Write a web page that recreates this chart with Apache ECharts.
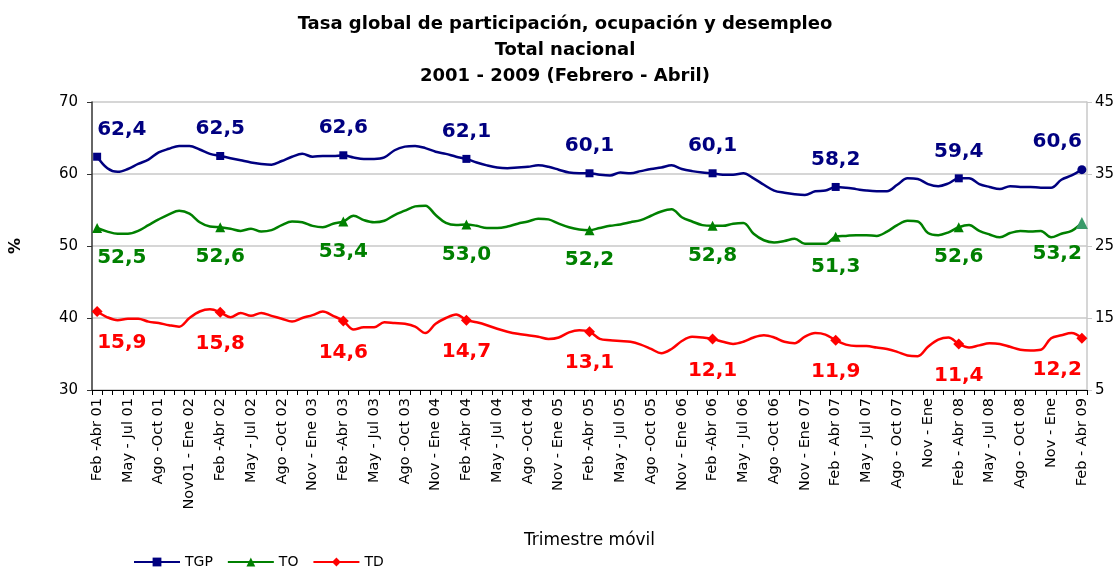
<!DOCTYPE html>
<html><head><meta charset="utf-8">
<script src="https://cdn.jsdelivr.net/npm/echarts@6/dist/echarts.min.js"></script>
<style>html,body{margin:0;padding:0;background:#fff}#c{width:1120px;height:567px}</style>
</head><body><div id="c"></div>
<script>
const tickLabels = [
  'Feb -Abr 01','May - Jul 01','Ago -Oct 01','Nov01 - Ene 02',
  'Feb -Abr 02','May - Jul 02','Ago -Oct 02','Nov - Ene 03',
  'Feb -Abr 03','May - Jul 03','Ago -Oct 03','Nov - Ene 04',
  'Feb -Abr 04','May - Jul 04','Ago -Oct 04','Nov - Ene 05',
  'Feb -Abr 05','May - Jul 05','Ago -Oct 05','Nov - Ene 06',
  'Feb -Abr 06','May - Jul 06','Ago -Oct 06','Nov - Ene 07',
  'Feb - Abr 07','May - Jul 07','Ago - Oct 07','Nov - Ene',
  'Feb - Abr 08','May - Jul 08','Ago - Oct 08','Nov - Ene',
  'Feb - Abr 09'
];
const tgp = [
  62.4, 60.8, 60.3, 60.7, 61.4, 62.0, 63.0, 63.5, 63.9, 63.9, 63.4, 62.8,
  62.5, 62.2, 61.9, 61.6, 61.4, 61.3, 61.8, 62.4, 62.8, 62.4, 62.5, 62.5,
  62.6, 62.3, 62.1, 62.1, 62.3, 63.3, 63.8, 63.9, 63.6, 63.1, 62.8, 62.4,
  62.1, 61.6, 61.2, 60.9, 60.8, 60.9, 61.0, 61.2, 61.0, 60.6, 60.2, 60.1,
  60.1, 59.9, 59.8, 60.2, 60.1, 60.4, 60.7, 60.9, 61.2, 60.7, 60.4, 60.2,
  60.1, 59.9, 59.9, 60.1, 59.4, 58.5, 57.7, 57.4, 57.2, 57.1, 57.6, 57.7,
  58.2, 58.1, 57.9, 57.7, 57.6, 57.6, 58.5, 59.4, 59.3, 58.6, 58.3, 58.7,
  59.4, 59.4, 58.6, 58.2, 57.9, 58.3, 58.2, 58.2, 58.1, 58.1, 59.2, 59.8,
  60.6
];
const to = [
  52.5, 52.0, 51.7, 51.7, 52.1, 52.9, 53.7, 54.4, 54.9, 54.5, 53.3, 52.7,
  52.6, 52.4, 52.1, 52.4, 52.0, 52.2, 52.9, 53.4, 53.3, 52.8, 52.6, 53.1,
  53.4, 54.2, 53.6, 53.3, 53.5, 54.3, 54.9, 55.5, 55.6, 54.3, 53.2, 52.9,
  53.0, 52.8, 52.5, 52.5, 52.7, 53.1, 53.4, 53.8, 53.7, 53.1, 52.6, 52.3,
  52.2, 52.5, 52.8, 53.0, 53.3, 53.6, 54.2, 54.8, 55.1, 54.0, 53.4, 52.9,
  52.8, 52.8, 53.1, 53.2, 51.7, 50.8, 50.5, 50.7, 51.0, 50.3, 50.3, 50.3,
  51.3, 51.4, 51.5, 51.5, 51.4, 52.0, 52.9, 53.5, 53.4, 51.8, 51.5, 51.9,
  52.6, 52.9, 52.1, 51.6, 51.2, 51.8, 52.1, 52.0, 52.1, 51.2, 51.7, 52.1,
  53.2
];
const td = [
  15.9, 15.1, 14.7, 14.9, 14.9, 14.5, 14.3, 14.0, 13.8, 15.0, 15.9, 16.2,
  15.8, 15.1, 15.7, 15.3, 15.7, 15.3, 14.9, 14.5, 15.0, 15.4, 15.9, 15.3,
  14.6, 13.4, 13.7, 13.7, 14.4, 14.3, 14.2, 13.8, 12.9, 14.2, 15.0, 15.5,
  14.7, 14.4, 14.0, 13.5, 13.1, 12.8, 12.6, 12.4, 12.1, 12.3, 13.0, 13.3,
  13.1, 12.1, 11.9, 11.8, 11.7, 11.3, 10.7, 10.1, 10.7, 11.8, 12.4, 12.3,
  12.1, 11.7, 11.4, 11.7, 12.3, 12.6, 12.3, 11.7, 11.5, 12.4, 12.9, 12.7,
  11.9, 11.3, 11.1, 11.1, 10.9, 10.7, 10.3, 9.8, 9.7, 11.0, 12.0, 12.3,
  11.4, 10.9, 11.2, 11.5, 11.4, 11.0, 10.6, 10.5, 10.6, 12.2, 12.6, 12.9,
  12.2
];

const n = tgp.length;
const categories = [];
for (let i = 0; i < n; i++) categories.push(i % 3 === 0 ? tickLabels[i / 3] : '');

const FONT = '"DejaVu Sans", "Liberation Sans", Arial, sans-serif';
const fmt = v => (typeof v === 'object' ? v.value : v).toFixed(1).replace('.', ',');

function buildData(arr, pos, dist, lastExtra) {
  return arr.map((v, i) => {
    if (i % 12 !== 0) return { value: v, symbol: 'none' };
    const lab = { show: true, position: pos, distance: dist };
    if (i === 0) lab.align = 'left';
    const item = { value: v, label: lab };
    if (i === n - 1) { lab.align = 'right'; Object.assign(item, lastExtra || {}); }
    return item;
  });
}

function mkSeries(name, arr, color, symbol, size, yIdx, pos, dist, lastExtra) {
  return {
    name, type: 'line', yAxisIndex: yIdx, smooth: 0.35,
    symbol, symbolSize: size, showAllSymbol: true,
    lineStyle: { color, width: 2.5 }, itemStyle: { color },
    label: {
      show: false, color, fontSize: 20, fontWeight: 'bold', fontFamily: FONT,
      formatter: p => fmt(p.value)
    },
    data: buildData(arr, pos, dist, lastExtra),
    z: 3
  };
}

const chart = echarts.init(document.getElementById('c'), null, { renderer: 'canvas' });
chart.setOption({
  animation: false,
  backgroundColor: '#fff',
  title: {
    text: 'Tasa global de participación, ocupación y desempleo\nTotal nacional\n2001 - 2009 (Febrero - Abril)',
    left: 560, top: 6, textAlign: 'center',
    textStyle: { fontFamily: FONT, fontSize: 18, fontWeight: 'bold', color: '#000', lineHeight: 26, align: 'center' }
  },
  legend: {
    left: 128, top: 550, itemWidth: 46, itemHeight: 11, itemGap: 14,
    textStyle: { fontFamily: FONT, fontSize: 14, color: '#000' },
    data: ['TGP', 'TO', 'TD']
  },
  grid: { left: 87, right: 33, top: 102, bottom: 177, containLabel: false },
  xAxis: {
    type: 'category', data: categories, boundaryGap: true,
    name: 'Trimestre móvil', nameLocation: 'middle', nameGap: 142,
    nameTextStyle: { fontFamily: FONT, fontSize: 17, color: '#000' },
    axisLine: { lineStyle: { color: '#000', width: 1 } },
    axisTick: { show: true, interval: 0, length: 5, lineStyle: { color: '#000' } },
    axisLabel: { interval: 2, rotate: 90, margin: 8, fontFamily: FONT, fontSize: 14.5, color: '#000' }
  },
  yAxis: [
    {
      type: 'value', min: 30, max: 70, interval: 10, position: 'left',
      name: '%', nameLocation: 'middle', nameRotate: 90, nameGap: 68,
      nameTextStyle: { fontFamily: FONT, fontSize: 16, fontWeight: 'bold', color: '#000' },
      axisLine: { show: true, lineStyle: { color: '#333', width: 1.5 } },
      axisTick: { show: true, length: 5, lineStyle: { color: '#333' } },
      axisLabel: { margin: 14, fontFamily: FONT, fontSize: 15, color: '#000' },
      splitLine: { show: true, lineStyle: { color: '#c8c8c8', width: 1.5 } }
    },
    {
      type: 'value', min: 5, max: 45, interval: 10, position: 'right',
      axisLine: { show: true, lineStyle: { color: '#c8c8c8', width: 1.5 } },
      axisTick: { show: true, length: 5, lineStyle: { color: '#c8c8c8' } },
      axisLabel: { margin: 8, fontFamily: FONT, fontSize: 15, color: '#000' },
      splitLine: { show: false }
    }
  ],
  series: [
    mkSeries('TGP', tgp, '#000080', 'rect', 8, 0, 'top', 13, { symbol: 'circle', symbolSize: 9 }),
    mkSeries('TO', to, '#008000', 'triangle', 10, 0, 'bottom', 15, { symbolSize: 12, itemStyle: { color: '#3a9a6a' } }),
    mkSeries('TD', td, '#ff0000', 'diamond', 11, 1, 'bottom', 16)
  ]
});
</script>
</body></html>
